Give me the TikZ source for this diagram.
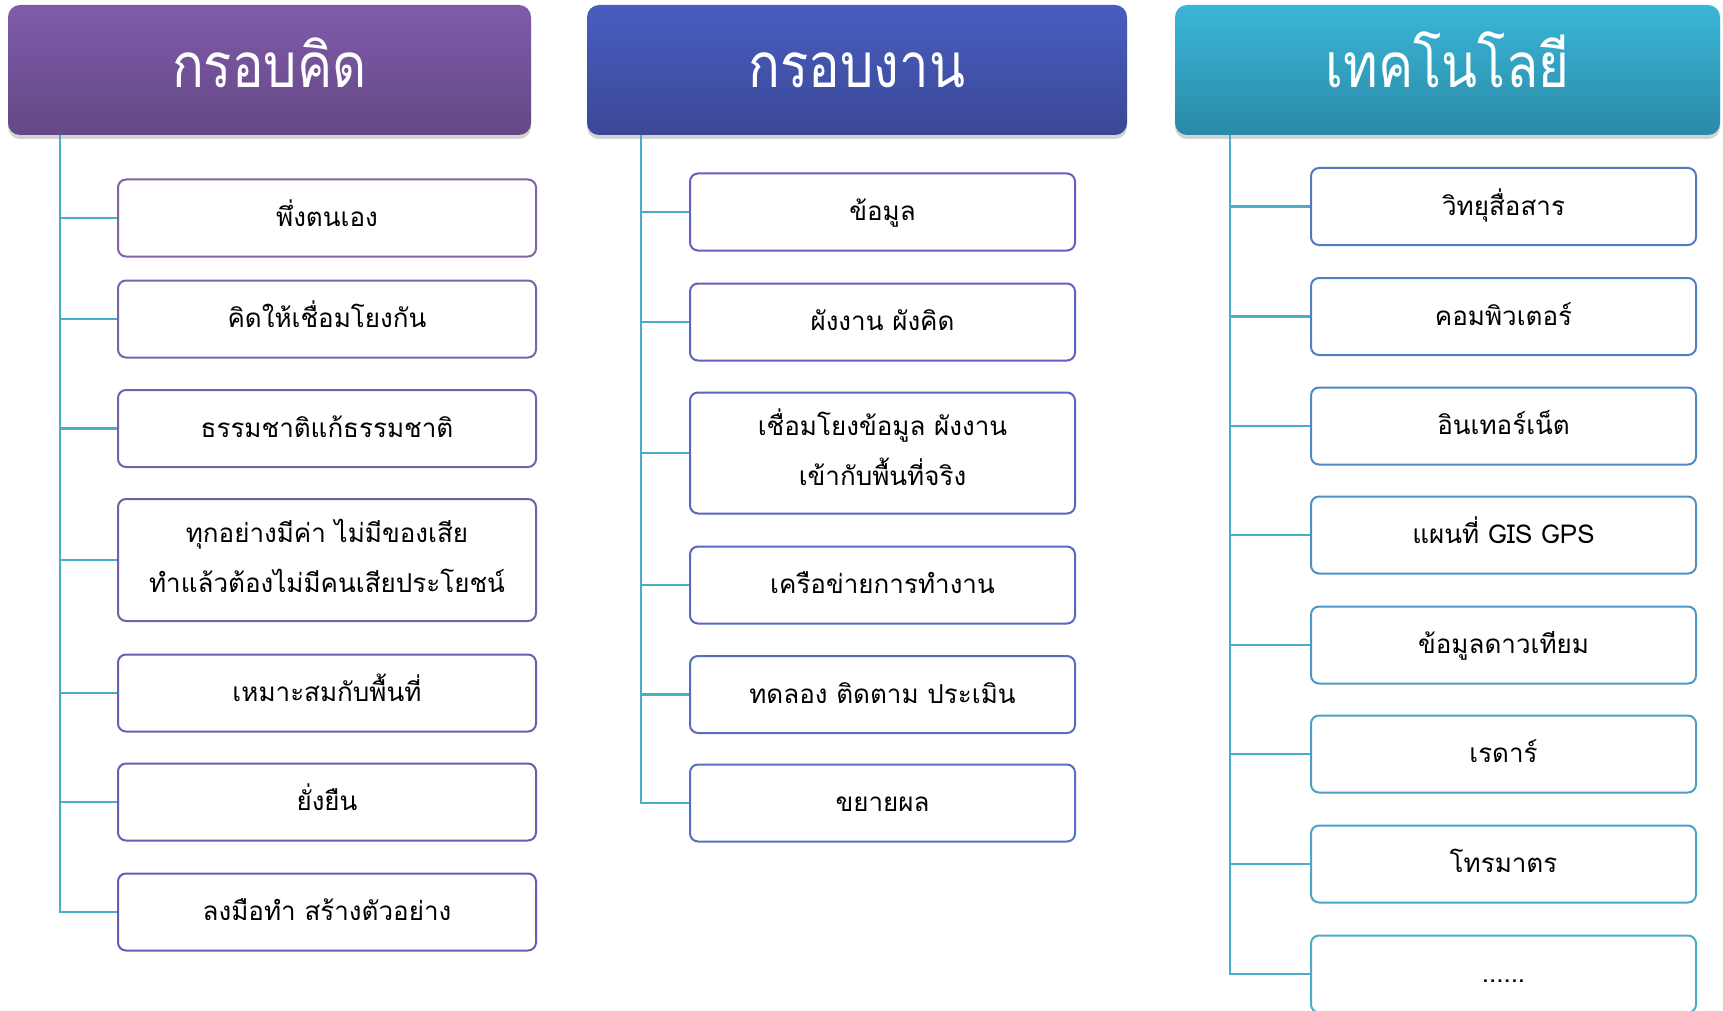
\documentclass[tikz,border=0pt]{standalone}
\usepackage{fontspec}
\newfontfamily\thaifont[Script=Thai]{Loma}
\newfontfamily\thaihead[Script=Thai,FakeStretch=0.85]{Loma}
\usetikzlibrary{shadows}
\definecolor{conncol}{RGB}{75,172,198}
\definecolor{hLtop}{RGB}{128,91,170}
\definecolor{hLbot}{RGB}{100,72,134}
\definecolor{hMtop}{RGB}{73,93,192}
\definecolor{hMbot}{RGB}{58,72,150}
\definecolor{hRtop}{RGB}{58,182,216}
\definecolor{hRbot}{RGB}{42,138,166}
\definecolor{bL1}{RGB}{128,100,164}
\definecolor{bL2}{RGB}{124,98,166}
\definecolor{bL3}{RGB}{120,96,168}
\definecolor{bL4}{RGB}{116,94,172}
\definecolor{bL5}{RGB}{110,92,176}
\definecolor{bL6}{RGB}{106,92,180}
\definecolor{bL7}{RGB}{102,92,184}
\definecolor{bM1}{RGB}{100,96,188}
\definecolor{bM2}{RGB}{96,98,190}
\definecolor{bM3}{RGB}{92,100,192}
\definecolor{bM4}{RGB}{88,104,192}
\definecolor{bM5}{RGB}{86,108,192}
\definecolor{bM6}{RGB}{84,112,192}
\definecolor{bR1}{RGB}{82,120,192}
\definecolor{bR2}{RGB}{80,128,194}
\definecolor{bR3}{RGB}{79,136,194}
\definecolor{bR4}{RGB}{78,144,196}
\definecolor{bR5}{RGB}{77,152,196}
\definecolor{bR6}{RGB}{76,158,197}
\definecolor{bR7}{RGB}{75,166,198}
\definecolor{bR8}{RGB}{75,172,198}
\begin{document}
\begin{tikzpicture}[x=1pt,y=-1pt,
  hdrbox/.style={rounded corners=12pt, inner sep=0pt, text=white,
    font=\thaihead\fontsize{62}{70}\selectfont,
    minimum height=130pt, text height=36pt, text depth=0pt,
    drop shadow={opacity=0.35, shadow xshift=0pt, shadow yshift=-4pt}},
  itembox/.style={draw, line width=2pt, rounded corners=8pt, fill=white,
    inner sep=0pt, minimum height=77pt, align=center, text=black,
    text height=17pt, text depth=0pt,
    font=\thaifont\fontsize{26}{49.5}\selectfont},
  tallbox/.style={itembox, minimum height=122pt, text height=64pt},
  colL/.style={minimum width=418pt},
  colM/.style={minimum width=385pt},
  colR/.style={minimum width=385pt},
  conn/.style={draw=conncol, line width=2.5pt}]
\useasboundingbox (0,0) rectangle (1723,1011);

% headers
\node[hdrbox, top color=hLtop, bottom color=hLbot, minimum width=523pt] (hL) at (269.5,70) {กรอบคิด};
\node[hdrbox, top color=hMtop, bottom color=hMbot, minimum width=540pt] (hM) at (857,70) {กรอบงาน};
\node[hdrbox, top color=hRtop, bottom color=hRbot, minimum width=545pt] (hR) at (1447.5,70) {เทคโนโลยี};

% trunk coordinates
\coordinate (tL) at (60,135);
\coordinate (tM) at (641,135);
\coordinate (tR) at (1230,135);

% left column
\node[itembox, colL, draw=bL1] (l1) at (327,218) {พึ่งตนเอง};
\node[itembox, colL, draw=bL2] (l2) at (327,319) {คิดให้เชื่อมโยงกัน};
\node[itembox, colL, draw=bL3] (l3) at (327,428.5) {ธรรมชาติแก้ธรรมชาติ};
\node[tallbox, colL, draw=bL4] (l4) at (327,560) {ทุกอย่างมีค่า ไม่มีของเสีย\\ทำแล้วต้องไม่มีคนเสียประโยชน์};
\node[itembox, colL, draw=bL5] (l5) at (327,693) {เหมาะสมกับพื้นที่};
\node[itembox, colL, draw=bL6] (l6) at (327,802) {ยั่งยืน};
\node[itembox, colL, draw=bL7] (l7) at (327,912) {ลงมือทำ สร้างตัวอย่าง};

% middle column
\node[itembox, colM, draw=bM1] (m1) at (882.5,212) {ข้อมูล};
\node[itembox, colM, draw=bM2] (m2) at (882.5,322) {ผังงาน ผังคิด};
\node[tallbox, colM, draw=bM3, minimum height=121pt] (m3) at (882.5,453) {เชื่อมโยงข้อมูล ผังงาน\\เข้ากับพื้นที่จริง};
\node[itembox, colM, draw=bM4] (m4) at (882.5,585) {เครือข่ายการทำงาน};
\node[itembox, colM, draw=bM5] (m5) at (882.5,694.5) {ทดลอง ติดตาม ประเมิน};
\node[itembox, colM, draw=bM6] (m6) at (882.5,803) {ขยายผล};

% right column
\node[itembox, colR, draw=bR1] (r1) at (1503.5,206.5) {วิทยุสื่อสาร};
\node[itembox, colR, draw=bR2] (r2) at (1503.5,316.5) {คอมพิวเตอร์};
\node[itembox, colR, draw=bR3] (r3) at (1503.5,426) {อินเทอร์เน็ต};
\node[itembox, colR, draw=bR4] (r4) at (1503.5,535) {แผนที่ GIS GPS};
\node[itembox, colR, draw=bR5] (r5) at (1503.5,645) {ข้อมูลดาวเทียม};
\node[itembox, colR, draw=bR6] (r6) at (1503.5,754) {เรดาร์};
\node[itembox, colR, draw=bR7] (r7) at (1503.5,864) {โทรมาตร};
\node[itembox, colR, draw=bR8] (r8) at (1503.5,974) {......};

% connectors
\foreach \b in {l1,l2,l3,l4,l5,l6,l7} {\draw[conn] (tL) |- (\b.west);}
\foreach \b in {m1,m2,m3,m4,m5,m6} {\draw[conn] (tM) |- (\b.west);}
\foreach \b in {r1,r2,r3,r4,r5,r6,r7,r8} {\draw[conn] (tR) |- (\b.west);}
\end{tikzpicture}
\end{document}
